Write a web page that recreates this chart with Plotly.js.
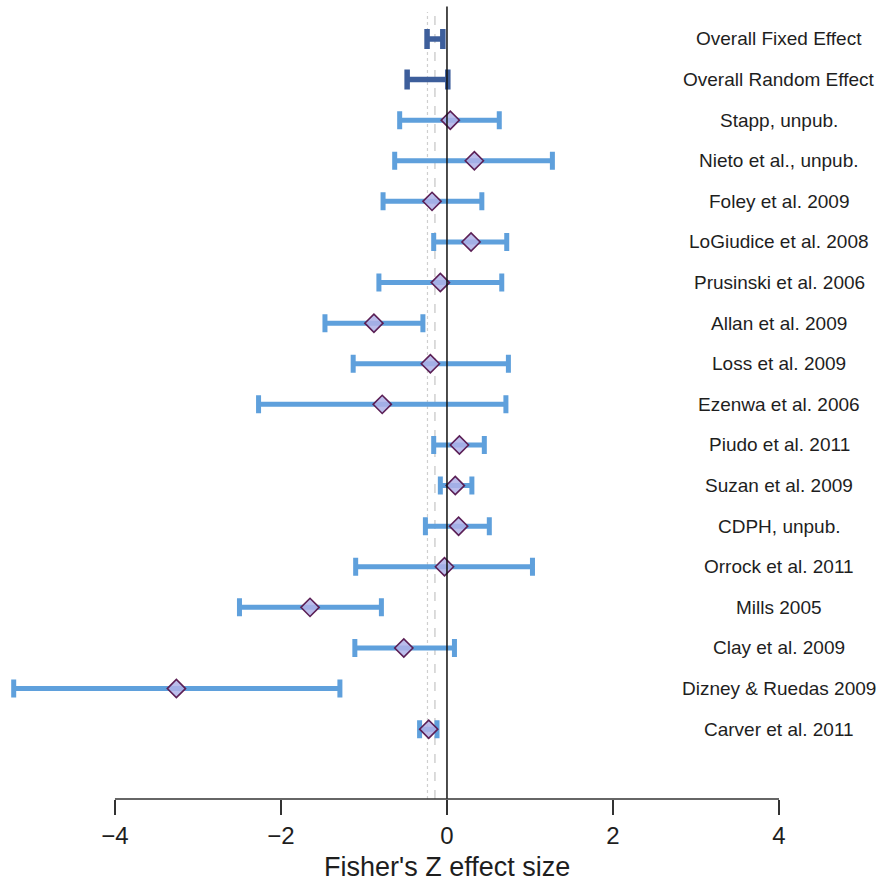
<!DOCTYPE html>
<html>
<head>
<meta charset="utf-8">
<script src="https://cdn.plot.ly/plotly-3.0.1.min.js"></script>
<style>html,body{margin:0;padding:0;background:#fff;}#chart{width:883px;height:886px;}</style>
</head>
<body>
<div id="chart"></div>
<script>
// Overall summary effects (no point marker)
var overallLabels = ["Overall Fixed Effect", "Overall Random Effect"];
var overallEst = [-0.145, -0.235];
var overallLo = [-0.24, -0.48];
var overallHi = [-0.05, 0.01];

// Individual studies
var studyLabels = ["Stapp, unpub.", "Nieto et al., unpub.", "Foley et al. 2009", "LoGiudice et al. 2008",
  "Prusinski et al. 2006", "Allan et al. 2009", "Loss et al. 2009", "Ezenwa et al. 2006",
  "Piudo et al. 2011", "Suzan et al. 2009", "CDPH, unpub.", "Orrock et al. 2011",
  "Mills 2005", "Clay et al. 2009", "Dizney & Ruedas 2009", "Carver et al. 2011"];
var studyEst = [0.04, 0.33, -0.18, 0.29, -0.08, -0.88, -0.20, -0.78, 0.15, 0.10, 0.14, -0.03, -1.65, -0.52, -3.26, -0.22];
var studyLo = [-0.57, -0.63, -0.77, -0.16, -0.82, -1.47, -1.13, -2.27, -0.16, -0.08, -0.26, -1.10, -2.50, -1.11, -5.22, -0.33];
var studyHi = [0.63, 1.27, 0.42, 0.72, 0.66, -0.29, 0.74, 0.71, 0.45, 0.30, 0.51, 1.03, -0.79, 0.09, -1.29, -0.12];

var xTicks = [-4, -2, 0, 2, 4];
var xTickText = ["\u22124", "\u22122", "0", "2", "4"];
var xTitle = "Fisher's Z effect size";

var nOverall = overallLabels.length;
var overallY = overallLabels.map(function(_, i){ return -i; });
var studyY = studyLabels.map(function(_, i){ return -(i + nOverall); });

var font = '"Liberation Sans", Arial, Helvetica, sans-serif';

var traces = [
  {
    type: 'scatter', mode: 'markers',
    x: overallEst, y: overallY,
    marker: {size: 1, color: 'rgba(0,0,0,0)'},
    error_x: {type: 'data', symmetric: false,
      array: overallHi.map(function(h, i){ return h - overallEst[i]; }),
      arrayminus: overallEst.map(function(e, i){ return e - overallLo[i]; }),
      color: '#3d5e9b', thickness: 5.5, width: 10},
    hoverinfo: 'skip', showlegend: false
  },
  {
    type: 'scatter', mode: 'markers',
    x: studyEst, y: studyY,
    marker: {symbol: 'diamond', size: 14, color: 'rgba(175,178,232,0.85)',
      line: {color: '#5b1f55', width: 1.6}},
    error_x: {type: 'data', symmetric: false,
      array: studyHi.map(function(h, i){ return h - studyEst[i]; }),
      arrayminus: studyEst.map(function(e, i){ return e - studyLo[i]; }),
      color: '#5fa0dc', thickness: 5, width: 9},
    hoverinfo: 'skip', showlegend: false
  }
];

var annotations = [];
overallLabels.concat(studyLabels).forEach(function(lab, i){
  annotations.push({x: 4, y: -i, xref: 'x', yref: 'y', text: lab, showarrow: false,
    xanchor: 'center', yanchor: 'middle', font: {family: font, size: 19, color: '#1e1e1e'}});
});
annotations.push({x: 0, y: 0, xref: 'x', yref: 'paper', text: xTitle, showarrow: false,
  xanchor: 'center', yanchor: 'middle', yshift: -68, font: {family: font, size: 27, color: '#1e1e1e'}});

var shapes = [
  {type: 'line', xref: 'x', yref: 'paper', x0: overallEst[1], x1: overallEst[1], y0: 0, y1: 0.985,
    line: {color: '#cfcfcf', width: 1.2, dash: 'dot'}, layer: 'below'},
  {type: 'line', xref: 'x', yref: 'paper', x0: overallEst[0], x1: overallEst[0], y0: 0, y1: 0.985,
    line: {color: '#c4c4c4', width: 1.2, dash: 'dash'}, layer: 'below'},
  {type: 'line', xref: 'x', yref: 'paper', x0: 0, x1: 0, y0: 0, y1: 0.992,
    line: {color: '#111', width: 1.5}, layer: 'above'},
  {type: 'line', xref: 'x', yref: 'paper', x0: xTicks[0], x1: xTicks[xTicks.length - 1], y0: 0, y1: 0,
    line: {color: '#333', width: 1.5}, layer: 'above'}
];

var layout = {
  width: 883, height: 886,
  margin: {l: 0, r: 0, t: 0, b: 87, pad: 0},
  paper_bgcolor: '#fff', plot_bgcolor: '#fff',
  showlegend: false,
  xaxis: {range: [-5.385, 5.253], showgrid: false, zeroline: false, showline: false,
    tickvals: xTicks, ticktext: xTickText, ticks: 'outside', ticklen: 15, tickwidth: 1.5,
    tickcolor: '#333', tickfont: {family: font, size: 24, color: '#1e1e1e'}, fixedrange: true},
  yaxis: {range: [-18.72, 0.96], showgrid: false, zeroline: false, showline: false,
    showticklabels: false, ticks: '', fixedrange: true},
  shapes: shapes,
  annotations: annotations
};

Plotly.newPlot('chart', traces, layout, {displayModeBar: false, staticPlot: true});
</script>
</body>
</html>
